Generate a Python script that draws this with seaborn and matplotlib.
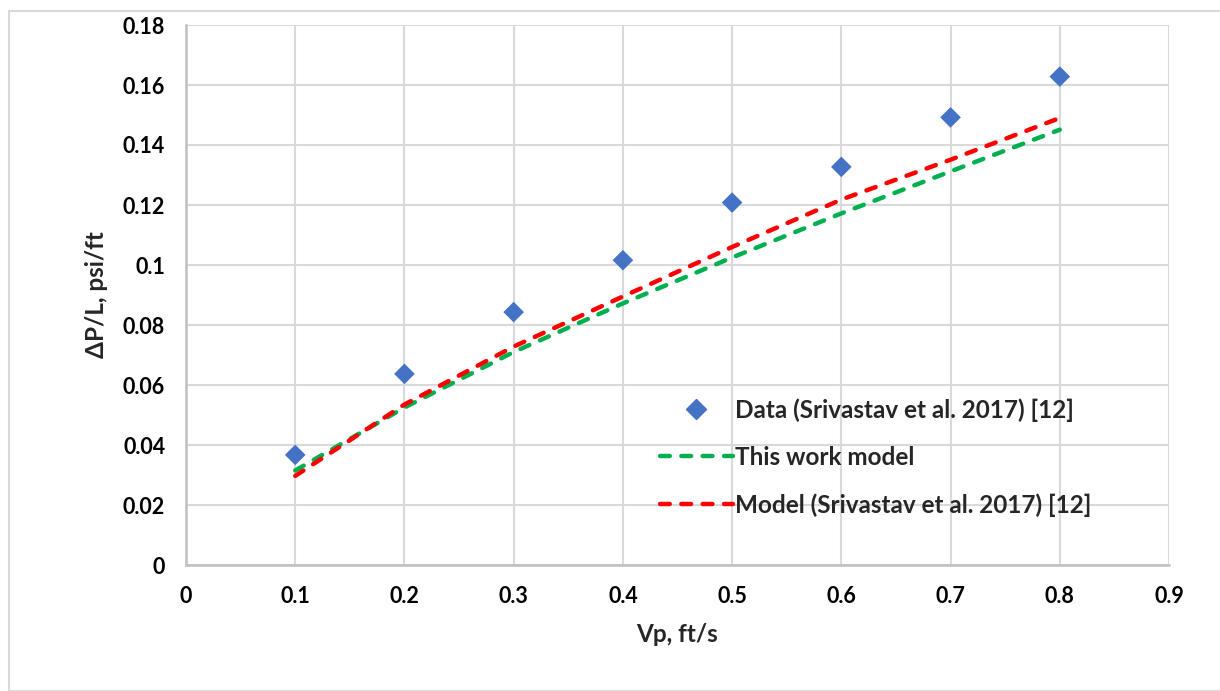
import matplotlib
matplotlib.use("Agg")
import matplotlib.pyplot as plt
import seaborn as sns
import pandas as pd
from matplotlib.lines import Line2D
from matplotlib.patches import Rectangle

# ---- data ----
vp_data = [0.1, 0.2, 0.3, 0.4, 0.5, 0.6, 0.7, 0.8]
dp_data = [0.0367, 0.0637, 0.0843, 0.1016, 0.1208, 0.1327, 0.1492, 0.1628]

vp_model = [0.1, 0.2, 0.3, 0.4, 0.5, 0.6, 0.7, 0.8]
dp_this_work = [0.0315, 0.0525, 0.0710, 0.0872, 0.1025, 0.1172, 0.1312, 0.1451]
dp_srivastav = [0.0297, 0.0535, 0.0728, 0.0895, 0.1060, 0.1218, 0.1351, 0.1490]

label_data = "Data (Srivastav et al. 2017) [12]"
label_this = "This work model"
label_model = "Model (Srivastav et al. 2017) [12]"

x_ticks = [0, 0.1, 0.2, 0.3, 0.4, 0.5, 0.6, 0.7, 0.8, 0.9]
x_ticklabels = ["0", "0.1", "0.2", "0.3", "0.4", "0.5", "0.6", "0.7", "0.8", "0.9"]
y_ticks = [0, 0.02, 0.04, 0.06, 0.08, 0.1, 0.12, 0.14, 0.16, 0.18]
y_ticklabels = ["0", "0.02", "0.04", "0.06", "0.08", "0.1", "0.12", "0.14", "0.16", "0.18"]

# ---- style ----
sns.set_theme(style="white")
plt.rcParams["font.family"] = ["Lato", "DejaVu Sans"]
plt.rcParams["font.weight"] = "bold"

FS_TICK = 15.5
FS_TEXT = 17.5
C_DATA = "#4472C4"
C_GREEN = "#00B050"
C_RED = "#FF0000"
GRID = "#D9D9D9"

fig = plt.figure(figsize=(12.2, 6.91), dpi=100)
fig.patch.set_facecolor("white")
ax = fig.add_axes([186 / 1220, 1 - 565 / 691, (1169 - 186) / 1220, (565 - 25) / 691])

df_data = pd.DataFrame({"vp": vp_data, "dp": dp_data})
df_lines = pd.DataFrame({"vp": vp_model, "this": dp_this_work, "model": dp_srivastav})

LW = 3.2
DASH = (2.2, 2.6)
sns.lineplot(data=df_lines, x="vp", y="this", ax=ax, color=C_GREEN, lw=LW,
             dashes=False, zorder=3)
sns.lineplot(data=df_lines, x="vp", y="model", ax=ax, color=C_RED, lw=LW,
             dashes=False, zorder=4)
for ln in ax.get_lines():
    ln.set_dashes(DASH)
    ln.set_dash_capstyle("round")
sns.scatterplot(data=df_data, x="vp", y="dp", ax=ax, marker="D", s=10.5**2,
                color=C_DATA, edgecolor="none", linewidth=0, zorder=5)

ax.set_xlim(0, 0.9)
ax.set_ylim(0, 0.18)
ax.set_xticks(x_ticks)
ax.set_xticklabels(x_ticklabels)
ax.set_yticks(y_ticks)
ax.set_yticklabels(y_ticklabels)
ax.grid(True, color=GRID, lw=1.5)
ax.set_axisbelow(True)
for side in ["top", "right"]:
    ax.spines[side].set_visible(False)
for side in ["left", "bottom"]:
    ax.spines[side].set_color("#BFBFBF")
    ax.spines[side].set_linewidth(1.8)
    ax.spines[side].set_zorder(2)
ax.tick_params(axis="both", length=0, labelsize=FS_TICK, pad=15, colors="black")
for t in ax.get_xticklabels() + ax.get_yticklabels():
    t.set_fontweight("bold")

ax.set_xlabel("Vp, ft/s", fontsize=FS_TEXT, fontweight="bold", labelpad=12)
ax.set_ylabel("ΔP/L, psi/ft", fontsize=FS_TEXT, fontweight="bold", labelpad=11)

handles = [
    Line2D([], [], marker="D", color=C_DATA, linestyle="none", markersize=10.5),
    Line2D([], [], color=C_GREEN, lw=LW, dashes=DASH, dash_capstyle="round"),
    Line2D([], [], color=C_RED, lw=LW, dashes=DASH, dash_capstyle="round"),
]
leg = ax.legend(handles, [label_data, label_this, label_model],
                loc="upper left", bbox_to_anchor=(643 / 1220, 1 - 381 / 691),
                bbox_transform=fig.transFigure, frameon=False,
                prop={"size": FS_TEXT, "weight": "bold"}, handlelength=3.0,
                handletextpad=0.1, labelspacing=1.0, borderpad=0.2)

# outer chart border
fig.add_artist(Rectangle((9 / 1220, 0), 1.0, 1 - 11 / 691, transform=fig.transFigure,
                         fill=False, edgecolor="#D9D9D9", lw=1.5))

fig.savefig("out.png", dpi=100, facecolor="white")
